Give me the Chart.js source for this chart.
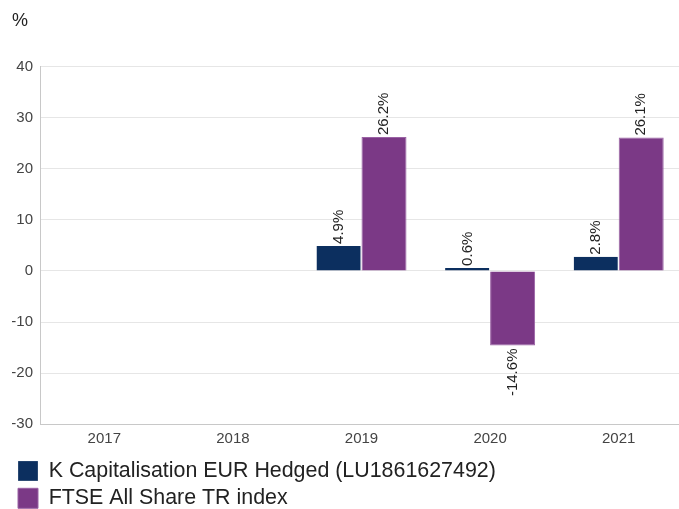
<!DOCTYPE html>
<html>
<head>
<meta charset="utf-8">
<script src="https://cdn.jsdelivr.net/npm/chart.js@4/dist/chart.umd.min.js"></script>
<style>
  html, body { margin: 0; padding: 0; background: #fff; overflow: hidden; }
  #wrap { width: 683px; height: 519px; }
</style>
</head>
<body>
<div id="wrap"><canvas id="myChart"></canvas></div>
<script>
// datos del grafico
const years = ["2017", "2018", "2019", "2020", "2021"];
const fondo = [null, null, 4.9, 0.6, 2.8];
const indice = [null, null, 26.2, -14.6, 26.1];
const nombres = ["K Capitalisation EUR Hedged (LU1861627492)", "FTSE All Share TR index"];
const colores = ["#0c2f5f", "#7b3986"];
const fuente = "'Liberation Sans', Arial, sans-serif";

// plugin simple para las etiquetas giradas
const etiquetas = {
  id: "etiquetas",
  afterDatasetsDraw(chart) {
    const ctx = chart.ctx;
    ctx.save();
    ctx.font = "15px " + fuente;
    ctx.fillStyle = "#222";
    ctx.textBaseline = "middle";
    chart.data.datasets.forEach((ds, i) => {
      const meta = chart.getDatasetMeta(i);
      meta.data.forEach((bar, j) => {
        const v = ds.data[j];
        if (v === null) return;
        const texto = v.toFixed(1) + "%";
        ctx.save();
        if (v >= 0) {
          ctx.translate(bar.x, bar.y - 2);
          ctx.rotate(-Math.PI / 2);
          ctx.textAlign = "left";
        } else {
          ctx.translate(bar.x, bar.y + 3);
          ctx.rotate(-Math.PI / 2);
          ctx.textAlign = "right";
        }
        ctx.fillText(texto, 0, 0);
        ctx.restore();
      });
    });
    ctx.restore();
  }
};

const config = {
  type: "bar",
  data: {
    labels: years,
    datasets: [
      { label: nombres[0], data: fondo, backgroundColor: colores[0], borderColor: "#ffffff", borderWidth: { right: 1 } },
      { label: nombres[1], data: indice, backgroundColor: colores[1], borderColor: "#9a62a4", borderWidth: 1 }
    ]
  },
  options: {
    responsive: true,
    maintainAspectRatio: false,
    animation: false,
    layout: { padding: { left: 12, right: 0, top: 0, bottom: 0 } },
    datasets: { bar: { categoryPercentage: 0.7, barPercentage: 1 } },
    plugins: {
      title: {
        display: true,
        text: "%",
        align: "start",
        color: "#222",
        font: { size: 18, family: fuente, weight: "normal" },
        padding: { top: 10, bottom: 35 }
      },
      legend: {
        position: "bottom",
        align: "start",
        labels: {
          boxWidth: 20,
          boxHeight: 20,
          padding: 6,
          color: "#222",
          font: { size: 21.4, family: fuente }
        }
      },
      tooltip: { enabled: false }
    },
    scales: {
      x: {
        grid: { display: false, drawTicks: false },
        border: { color: "#c8c8c8" },
        ticks: { color: "#444", font: { size: 15, family: fuente }, padding: 6 }
      },
      y: {
        min: -30,
        max: 40,
        afterFit(scale) { scale.width = 28; },
        ticks: { stepSize: 10, color: "#444", font: { size: 15, family: fuente }, padding: 7 },
        grid: { color: "#e6e6e6", drawTicks: false },
        border: { color: "#c8c8c8" }
      }
    }
  },
  plugins: [etiquetas]
};

const chartDOM = document.getElementById("myChart");
const myChart = new Chart(chartDOM, config);
</script>
</body>
</html>
